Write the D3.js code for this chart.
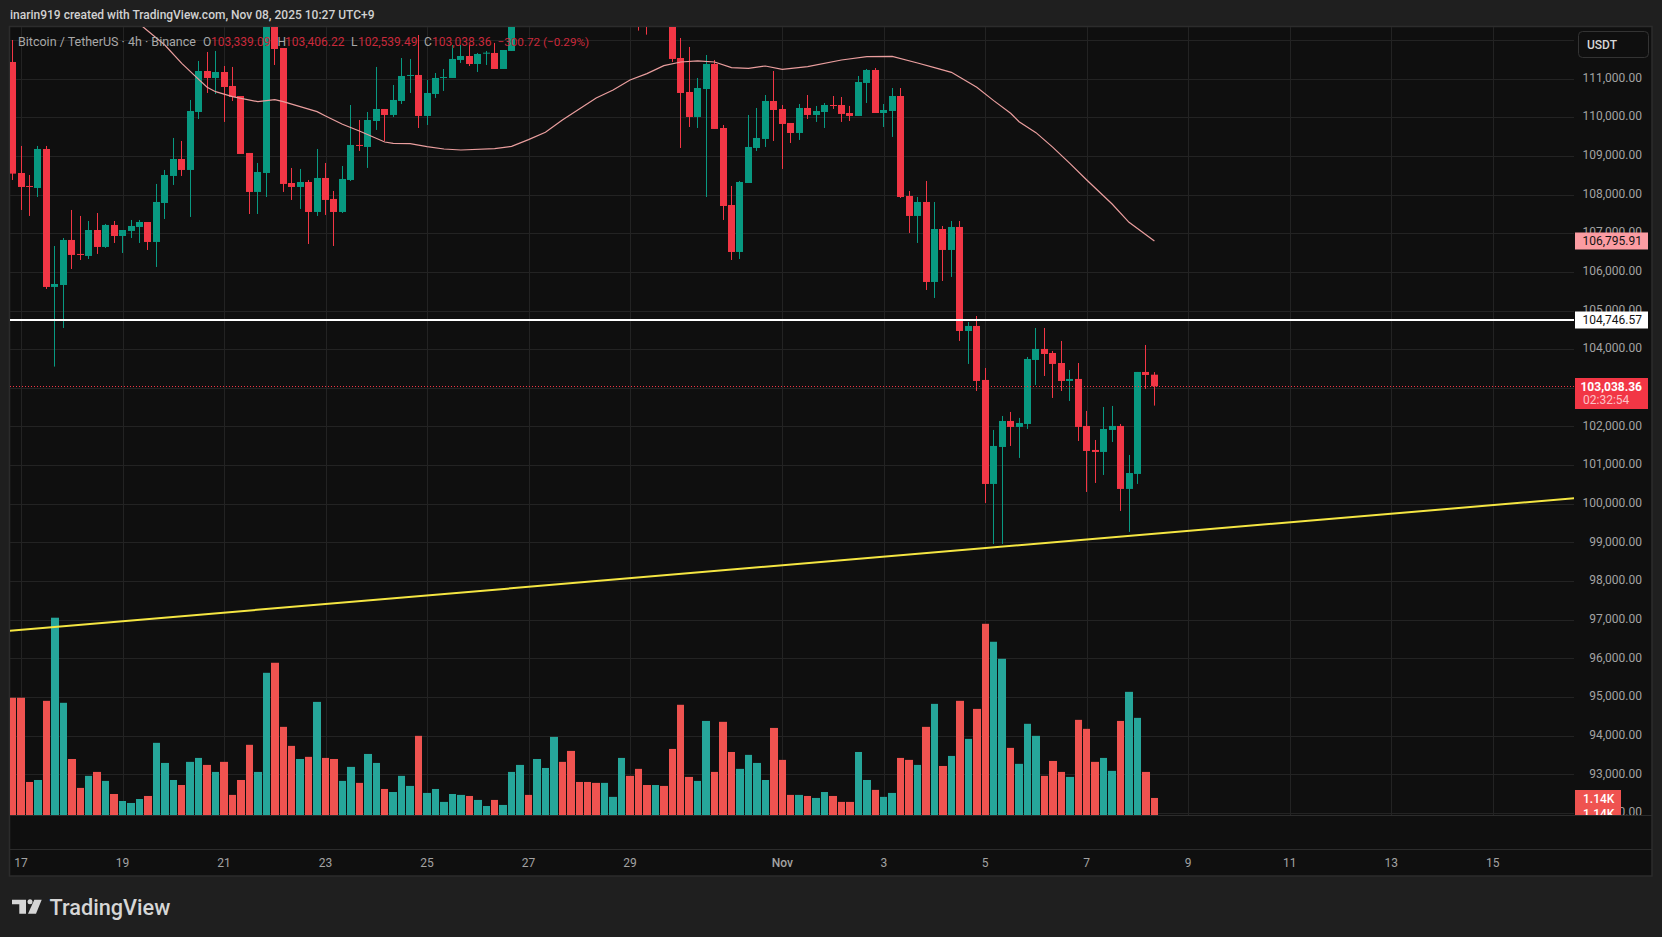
<!DOCTYPE html>
<html>
<head>
<meta charset="utf-8">
<script src="https://cdn.jsdelivr.net/npm/d3@7"></script>
<style>
html, body { margin: 0; padding: 0; background: #1f1f1f; overflow: hidden; }
text { font-family: Roboto, sans-serif; }
</style>
</head>
<body>
<div id="chart"></div>
<script>
// first bar is Oct 16 20:00, one bar every 4h. bars 60-77 sit above the visible range, so those are guesses
const opens = [111430,108558,108222,108170,109179,105609,105660,106825,106463,106411,107083,106644,107213,106928,107058,107161,107290,106773,107782,108481,108920,108636,110136,111197,111016,111171,110809,110550,109076,108067,108558,112780,111792,108299,108196,108325,107549,108429,107886,107549,108377,109283,109231,109903,110214,110059,110421,111068,111094,110033,110602,111016,111016,111482,111585,111378,111646,111663,111249,111715,112520,113300,113000,113700,114200,114900,114500,114100,113950,113800,113600,113900,114100,114500,113900,113200,112900,113100,112800,111533,110654,110007,110731,111378,109722,107730,106514,108299,109205,109438,110421,110214,109852,109593,110240,110059,110136,110317,110317,110110,110033,110887,111223,110110,110162,110550,107963,107446,107808,105738,107109,106566,107161,104470,104600,103203,100512,101469,102142,101987,102064,103720,104005,103901,103642,103177,103229,102013,101392,101340,101909,102013,100383,100771,103410,103339.09];
const highs = [111999,109257,108506,109257,109257,106669,106876,107601,107446,107316,107523,107239,107316,107083,107342,107342,107290,108274,108636,109464,109386,110447,111456,111689,111715,111326,111301,110550,109076,108817,113000,113100,111792,108688,108662,108377,109179,108817,108092,108739,110317,109929,110136,111301,110214,110835,111533,111508,112128,110964,111145,111249,111870,111870,111870,111663,111715,111922,111740,112640,113650,113450,113950,114500,115400,115100,114700,114250,114100,113950,114050,114200,114700,114600,114000,113300,113250,113250,112900,112051,111818,111016,111611,111482,109800,108222,108351,110059,110240,110576,111197,110317,109852,110343,110576,110292,110369,110550,110524,110292,111068,111249,111275,110343,110757,110757,108092,107937,108351,107808,107187,107316,107316,104703,104858,103513,101909,102271,102375,102220,103798,104548,104548,103953,104212,103461,103642,102401,101650,102504,102530,102064,101262,103410,104108,103406.22];
const lows = [108377,107601,107446,107937,105557,103548,104548,106074,106307,106333,106463,106618,106747,106488,106876,106747,106566,106126,107368,108248,108481,107420,109955,110628,110602,109878,110421,109050,107497,107497,107937,111352,108067,107860,107627,106721,107446,107472,106669,107523,108351,109127,108688,109671,109386,110007,110343,110628,109722,109800,110499,110680,111016,111404,111326,111171,111352,111249,111249,111715,112400,112900,112950,113600,114100,114300,113800,113700,113600,113300,113450,113800,114000,113400,112241,112137,112700,112600,111430,109205,109748,109722,107937,109697,107342,106307,106333,108299,109127,109231,109386,108662,109334,109412,109955,109878,109722,110214,109878,109903,110033,110369,110110,109748,109490,107911,107006,106747,105531,105324,105764,105868,104212,103617,102918,100020,98960,98960,101495,101185,101935,103073,103306,102737,102918,102659,101624,100305,100538,100745,101598,99814,99270,100512,102970,102539.49];
const closes = [108541,108196,108196,109179,105609,105686,106825,106437,106437,107083,106644,107213,106928,107083,107187,107290,106773,107808,108506,108920,108636,110162,111197,111016,111171,110783,110524,109050,108067,108584,112800,111766,108274,108196,108325,107549,108429,107860,107549,108403,109283,109257,109929,110214,110059,110447,111068,111094,110033,110628,111016,111042,111508,111585,111378,111637,111671,111249,111740,112520,113300,113000,113700,114200,114900,114500,114100,113950,113800,113600,113900,114100,114500,113900,113200,112900,113100,112800,111508,110628,110007,110757,111378,109697,107704,106514,108325,109231,109464,110421,110188,109826,109593,110240,110059,110162,110317,110292,110085,110033,110912,111223,110110,110188,110550,107937,107446,107808,105738,107109,106566,107161,104470,104600,103177,100512,101495,102142,101987,102090,103746,104005,103875,103617,103177,103229,101987,101366,101340,101935,102013,100383,100796,103410,103332,103038.36];

// volume in thousands, same bars
const volumes = [7.72,7.72,2.19,2.32,7.52,12.98,7.39,3.70,1.80,2.59,2.85,2.26,1.40,0.94,0.81,1.07,1.27,4.76,3.44,2.32,1.99,3.51,3.77,3.31,2.85,3.51,1.34,2.32,4.63,2.85,9.36,10.02,5.81,4.56,3.70,3.84,7.45,3.77,3.70,2.26,3.18,2.13,4.03,3.44,1.73,1.53,2.59,1.93,5.22,1.47,1.73,0.88,1.40,1.34,1.27,1.01,0.61,1.01,0.68,2.85,3.31,1.34,3.70,3.11,5.15,3.51,4.23,2.19,2.19,2.13,2.13,1.21,3.77,2.59,3.05,1.99,1.99,1.93,4.36,7.26,2.52,2.26,6.20,2.85,6.14,4.16,3.05,3.97,3.44,2.32,5.74,3.64,1.34,1.34,1.27,1.14,1.53,1.27,0.88,0.88,4.16,2.32,1.67,1.21,1.47,3.77,3.64,3.31,5.81,7.32,3.24,3.90,7.52,5.02,6.99,12.58,11.40,10.28,4.43,3.38,6.01,5.22,2.59,3.57,2.85,2.52,6.27,5.68,3.51,3.77,2.92,6.20,8.11,6.40,2.85,1.14];

const maBars = [13,15,18,20,22,23,24,26,29,31,32,36,37,39,41,44,45,47,49,51,53,57,59,61,63,65,67,69,71,73,75,77,79,81,83,85,87,89,91,94,98,101,104,107,109,111,112,114,116,118,119,121,123,125,127,130,132,135];
const maValues = [112706,112413,111870,111395,110981,110775,110662,110533,110404,110455,110404,110145,110033,109817,109645,109360,109326,109317,109239,109179,109153,109188,109248,109421,109610,109929,110214,110499,110706,110964,111128,111335,111430,111456,111430,111283,111266,111326,111240,111309,111482,111568,111577,111404,111283,111163,111033,110775,110430,110102,109886,109602,109222,108808,108377,107756,107282,106795.91];

const trendBars = [-1, 185];
const trendValues = [96701, 100150];

const lastPrice = 103038.36;
const levelPrice = 104746.57;
const maLast = 106795.91;
const volLast = 1.14;

const priceTicks = d3.range(92000, 112001, 1000);
const dateTicks = [1, 13, 25, 37, 49, 61, 73, 91, 103, 115, 127, 139, 151, 163, 175];
const dateLabels = ['17', '19', '21', '23', '25', '27', '29', 'Nov', '3', '5', '7', '9', '11', '13', '15'];

const headerText = 'inarin919 created with TradingView.com, Nov 08, 2025 10:27 UTC+9';

const W = 1662, H = 937;
const plot = { left: 10, right: 1574, top: 27, bottom: 815 };
const frameRight = 1652, timeTop = 849, frameBottom = 876;

const upColor = '#089981', downColor = '#f23645';
const volUp = '#26a69a', volDown = '#ef5350';
const gridColor = '#232323', borderColor = '#2c2c2c';
const maColor = '#ea9e9e';

const x = d3.scaleLinear().domain([0, 135]).range([12.6, 1154.4]);
const y = d3.scaleLinear().domain([111000, 93000]).range([78.6, 774.3]);
const yVol = d3.scaleLinear().domain([0, 13]).range([815.3, 617.4]);
const step = x(1) - x(0);

const svg = d3.select('#chart').append('svg')
  .attr('width', W).attr('height', H)
  .style('display', 'block');

svg.append('rect').attr('width', W).attr('height', H).attr('fill', '#1f1f1f');

svg.append('rect')
  .attr('x', 9.5).attr('y', 26.5)
  .attr('width', frameRight - 9.5).attr('height', frameBottom - 26.5)
  .attr('fill', '#0f0f0f').attr('stroke', borderColor).attr('stroke-width', 1.5);

const clip = svg.append('defs');
clip.append('clipPath').attr('id', 'plotClip').append('rect')
  .attr('x', plot.left).attr('y', plot.top)
  .attr('width', plot.right - plot.left).attr('height', plot.bottom - plot.top);
clip.append('clipPath').attr('id', 'axisClip').append('rect')
  .attr('x', plot.right).attr('y', plot.top)
  .attr('width', frameRight - plot.right).attr('height', plot.bottom - plot.top);

// Grid
const grid = svg.append('g').attr('clip-path', 'url(#plotClip)');
grid.selectAll('line.h').data(priceTicks).enter().append('line')
  .attr('x1', plot.left).attr('x2', plot.right)
  .attr('y1', d => Math.round(y(d)) + 0.5).attr('y2', d => Math.round(y(d)) + 0.5)
  .attr('stroke', gridColor);
grid.selectAll('line.v').data(dateTicks).enter().append('line')
  .attr('y1', plot.top).attr('y2', plot.bottom)
  .attr('x1', d => Math.round(x(d)) + 0.5).attr('x2', d => Math.round(x(d)) + 0.5)
  .attr('stroke', gridColor);

// Volume, bars fill the slot less one pixel so widths alternate 7/8 like the original
const main = svg.append('g').attr('clip-path', 'url(#plotClip)');
const bars = d3.range(opens.length);
const volLeft = i => Math.round(x(i) - step / 2 + 0.5);
const volRight = i => Math.round(x(i) + step / 2 - 0.5);
main.selectAll('rect.vol').data(bars).enter().append('rect')
  .attr('x', volLeft)
  .attr('y', i => yVol(volumes[i]))
  .attr('width', i => volRight(i) - volLeft(i))
  .attr('height', i => yVol(0) - yVol(volumes[i]))
  .attr('fill', i => closes[i] >= opens[i] ? volUp : volDown);

// Candles
const barWidth = 7;
const bodyLeft = i => Math.round(x(i) - barWidth / 2);
main.selectAll('line.wick').data(bars).enter().append('line')
  .attr('x1', i => bodyLeft(i) + 3.5).attr('x2', i => bodyLeft(i) + 3.5)
  .attr('y1', i => y(highs[i])).attr('y2', i => y(lows[i]))
  .attr('stroke', i => closes[i] >= opens[i] ? upColor : downColor)
  .attr('stroke-width', 1);
main.selectAll('rect.body').data(bars).enter().append('rect')
  .attr('x', bodyLeft)
  .attr('y', i => y(Math.max(opens[i], closes[i])))
  .attr('width', barWidth)
  .attr('height', i => Math.max(1, Math.abs(y(opens[i]) - y(closes[i]))))
  .attr('fill', i => closes[i] >= opens[i] ? upColor : downColor);

// Moving average
const maLine = d3.line().x((d, i) => x(maBars[i])).y(d => y(d));
main.append('path').datum(maValues)
  .attr('d', maLine)
  .attr('fill', 'none').attr('stroke', maColor).attr('stroke-width', 1.2);

// Trend line and levels
const trendLine = d3.line().x((d, i) => x(trendBars[i])).y(d => y(d));
main.append('path').datum(trendValues)
  .attr('d', trendLine)
  .attr('fill', 'none').attr('stroke', '#f5e642').attr('stroke-width', 2);
main.append('line')
  .attr('x1', plot.left).attr('x2', plot.right)
  .attr('y1', Math.round(y(levelPrice))).attr('y2', Math.round(y(levelPrice)))
  .attr('stroke', '#ffffff').attr('stroke-width', 2);
main.append('line')
  .attr('x1', plot.left).attr('x2', plot.right)
  .attr('y1', Math.round(y(lastPrice)) + 0.5).attr('y2', Math.round(y(lastPrice)) + 0.5)
  .attr('stroke', downColor).attr('stroke-dasharray', '1,2');

// Pane separators
[plot.bottom, timeTop].forEach(v => {
  svg.append('line')
    .attr('x1', plot.left).attr('x2', frameRight)
    .attr('y1', v + 0.5).attr('y2', v + 0.5)
    .attr('stroke', borderColor);
});

// Price axis
const fmt = d3.format(',.2f');
const axisG = svg.append('g').attr('clip-path', 'url(#axisClip)');
axisG.selectAll('text.tick').data(priceTicks.filter(d => d < 112000)).enter().append('text')
  .attr('x', 1642).attr('y', d => y(d) - 1)
  .attr('dy', '0.35em')
  .attr('text-anchor', 'end')
  .attr('font-size', 12)
  .attr('fill', '#a3a3a3')
  .text(d => fmt(d));

function priceLabel(price, bg, color) {
  const cy = y(price);
  axisG.append('rect')
    .attr('x', plot.right + 1).attr('y', Math.round(cy) - 8.5)
    .attr('width', 73).attr('height', 17).attr('fill', bg);
  axisG.append('text')
    .attr('x', 1642).attr('y', cy)
    .attr('dy', '0.35em').attr('text-anchor', 'end')
    .attr('font-size', 12).attr('fill', color)
    .text(fmt(price));
}
priceLabel(maLast, '#fb9ca2', '#131313');
priceLabel(levelPrice, '#ffffff', '#131313');

// Last price label with countdown
axisG.append('rect')
  .attr('x', plot.right + 1).attr('y', 378)
  .attr('width', 73).attr('height', 31).attr('fill', downColor);
axisG.append('text')
  .attr('x', 1642).attr('y', y(lastPrice)).attr('dy', '0.35em')
  .attr('text-anchor', 'end').attr('font-size', 12).attr('font-weight', 700)
  .attr('fill', '#ffffff').text(fmt(lastPrice));
axisG.append('text')
  .attr('x', 1583).attr('y', y(lastPrice) + 13.5).attr('dy', '0.35em')
  .attr('font-size', 12).attr('fill', '#fcc2c7').text('02:32:54');

// Volume label, second copy is cut by the pane edge
axisG.append('rect')
  .attr('x', plot.right + 1).attr('y', 790)
  .attr('width', 46).attr('height', 26).attr('fill', volDown);
[799, 814].forEach(v => {
  axisG.append('text')
    .attr('x', 1583).attr('y', v).attr('dy', '0.35em')
    .attr('font-size', 12).attr('font-weight', 500).attr('fill', '#ffffff')
    .text(d3.format('.2f')(volLast) + 'K');
});

// Currency button
svg.append('rect')
  .attr('x', 1578.5).attr('y', 31.5).attr('width', 70).attr('height', 26).attr('rx', 4)
  .attr('fill', '#0f0f0f').attr('stroke', '#333333');
svg.append('text')
  .attr('x', 1587).attr('y', 44.5).attr('dy', '0.35em')
  .attr('font-size', 12).attr('font-weight', 500).attr('fill', '#d6d6d6')
  .text('USDT');

// Time axis
svg.selectAll('text.date').data(dateTicks).enter().append('text')
  .attr('x', d => x(d)).attr('y', 863).attr('dy', '0.35em')
  .attr('text-anchor', 'middle')
  .attr('font-size', 12)
  .attr('font-weight', (d, i) => dateLabels[i] === 'Nov' ? 500 : 400)
  .attr('fill', '#a3a3a3')
  .text((d, i) => dateLabels[i]);

// Header
svg.append('text')
  .attr('x', 10).attr('y', 15).attr('dy', '0.35em')
  .attr('font-size', 12).attr('font-weight', 500).attr('fill', '#d1d1d1')
  .text(headerText);

// Legend
const legendGrey = '#a8a8a8', legendRed = '#c9293b';
const legend = [
  ['Bitcoin / TetherUS · 4h · Binance', 18, legendGrey, 12.5],
  ['O', 203, legendGrey, 12], [fmt(opens[135]), 211, legendRed, 12],
  ['H', 277.5, legendGrey, 12], [fmt(highs[135]), 285, legendRed, 12],
  ['L', 351, legendGrey, 12], [fmt(lows[135]), 358, legendRed, 12],
  ['C', 424, legendGrey, 12], [fmt(closes[135]), 432, legendRed, 12],
  ['−300.72 (−0.29%)', 497.5, legendRed, 11.7]
];
svg.selectAll('text.legend').data(legend).enter().append('text')
  .attr('x', d => d[1]).attr('y', 42).attr('dy', '0.35em')
  .attr('font-size', d => d[3])
  .attr('fill', d => d[2])
  .text(d => d[0]);

// Logo
const logo = svg.append('g').attr('fill', '#d6d6d6');
logo.append('path').attr('d', 'M12 899.7H26V913.7H19.3V904.3H12Z');
logo.append('circle').attr('cx', 30).attr('cy', 901.8).attr('r', 2.5);
logo.append('path').attr('d', 'M34.3 899.7H41.7L36 913.7H28Z');
svg.append('text')
  .attr('x', 49.5).attr('y', 907.5).attr('dy', '0.35em')
  .attr('font-size', 21.7).attr('font-weight', 500).attr('fill', '#d6d6d6')
  .text('TradingView');
</script>
</body>
</html>
